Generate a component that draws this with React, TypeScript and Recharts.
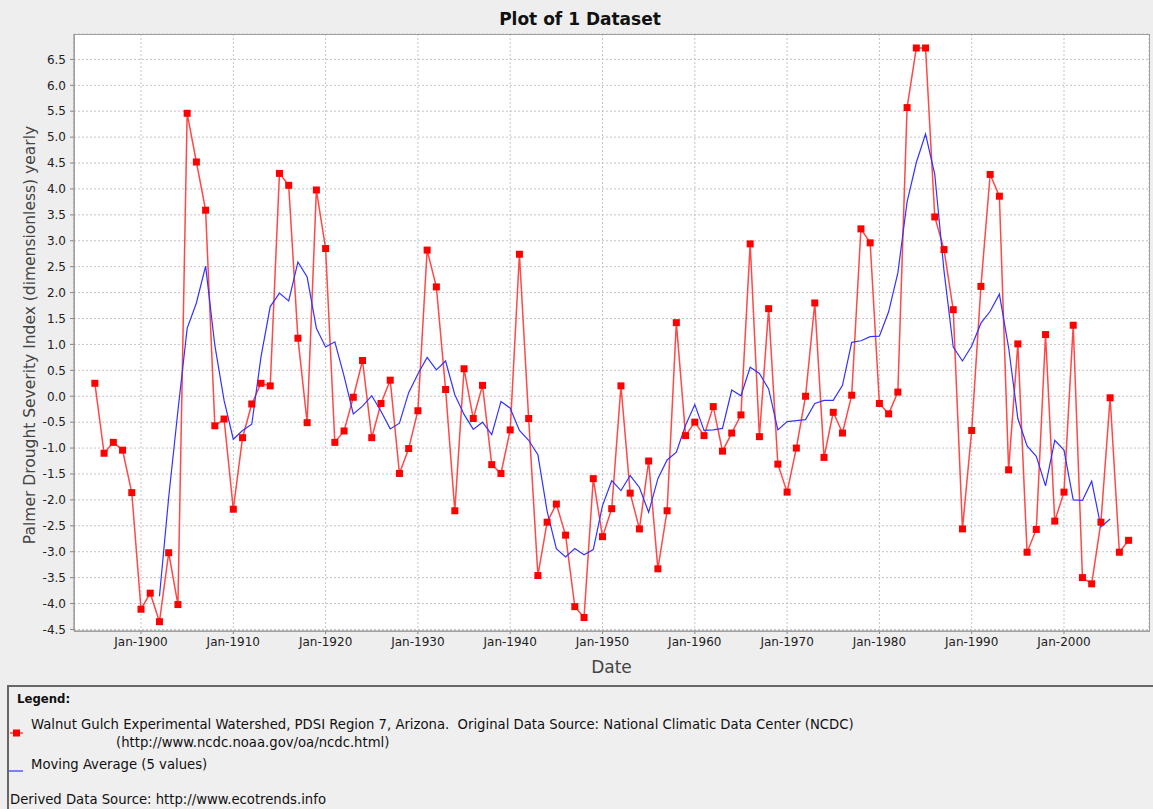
import React from 'react';
import { ComposedChart, Line, XAxis, YAxis, CartesianGrid } from 'recharts';

// years of the PDSI record (Jan of each year)
const years = [
  1895, 1896, 1897, 1898, 1899, 1900, 1901, 1902, 1903, 1904,
  1905, 1906, 1907, 1908, 1909, 1910, 1911, 1912, 1913, 1914,
  1915, 1916, 1917, 1918, 1919, 1920, 1921, 1922, 1923, 1924,
  1925, 1926, 1927, 1928, 1929, 1930, 1931, 1932, 1933, 1934,
  1935, 1936, 1937, 1938, 1939, 1940, 1941, 1942, 1943, 1944,
  1945, 1946, 1947, 1948, 1949, 1950, 1951, 1952, 1953, 1954,
  1955, 1956, 1957, 1958, 1959, 1960, 1961, 1962, 1963, 1964,
  1965, 1966, 1967, 1968, 1969, 1970, 1971, 1972, 1973, 1974,
  1975, 1976, 1977, 1978, 1979, 1980, 1981, 1982, 1983, 1984,
  1985, 1986, 1987, 1988, 1989, 1990, 1991, 1992, 1993, 1994,
  1995, 1996, 1997, 1998, 1999, 2000, 2001, 2002, 2003, 2004,
  2005, 2006, 2007,
];

const pdsi = [
  0.25, -1.1, -0.89, -1.04, -1.86, -4.11, -3.8, -4.35, -3.02, -4.02,
  5.46, 4.52, 3.59, -0.57, -0.44, -2.18, -0.8, -0.15, 0.25, 0.2,
  4.3, 4.07, 1.12, -0.51, 3.98, 2.85, -0.89, -0.67, -0.02, 0.69,
  -0.8, -0.14, 0.31, -1.49, -1.01, -0.28, 2.82, 2.11, 0.13, -2.21,
  0.53, -0.43, 0.21, -1.32, -1.49, -0.65, 2.74, -0.43, -3.46, -2.43,
  -2.08, -2.68, -4.06, -4.27, -1.59, -2.71, -2.17, 0.2, -1.87, -2.56,
  -1.25, -3.33, -2.21, 1.42, -0.76, -0.5, -0.76, -0.2, -1.06, -0.71,
  -0.36, 2.94, -0.78, 1.69, -1.31, -1.85, -1.0, 0.0, 1.8, -1.18,
  -0.31, -0.71, 0.02, 3.23, 2.96, -0.14, -0.34, 0.08, 5.57, 6.72,
  6.72, 3.46, 2.83, 1.67, -2.56, -0.66, 2.12, 4.28, 3.86, -1.42,
  1.01, -3.01, -2.57, 1.19, -2.41, -1.85, 1.37, -3.5, -3.62, -2.43,
  -0.03, -3.01, -2.78,
];

// moving average (5 values), 1902 - 2005
const movingAvgStart = 1902;
const movingAvg = [
  -3.86, -1.95, -0.28, 1.31, 1.8, 2.51, 0.98, -0.08, -0.83, -0.66,
  -0.54, 0.76, 1.73, 1.99, 1.84, 2.59, 2.3, 1.31, 0.95, 1.05,
  0.39, -0.34, -0.19, 0.01, -0.29, -0.63, -0.52, 0.07, 0.43, 0.75,
  0.51, 0.68, 0.03, -0.35, -0.64, -0.5, -0.74, -0.1, -0.23, -0.66,
  -0.85, -1.13, -2.22, -2.94, -3.1, -2.94, -3.06, -2.96, -2.11, -1.63,
  -1.82, -1.53, -1.76, -2.24, -1.59, -1.23, -1.08, -0.56, -0.16, -0.66,
  -0.65, -0.62, 0.12, 0.01, 0.56, 0.44, 0.14, -0.65, -0.49, -0.47,
  -0.45, -0.14, -0.08, -0.08, 0.21, 1.04, 1.07, 1.15, 1.16, 1.63,
  2.38, 3.75, 4.51, 5.06, 4.28, 2.42, 0.95, 0.68, 0.97, 1.41,
  1.64, 1.97, 0.94, -0.43, -0.96, -1.16, -1.73, -0.85, -1.04, -2.0,
  -2.01, -1.64, -2.52, -2.37,
];

const xTicks = [1900, 1910, 1920, 1930, 1940, 1950, 1960, 1970, 1980, 1990, 2000];
const yTicks = [
  -4.5, -4.0, -3.5, -3.0, -2.5, -2.0, -1.5, -1.0, -0.5, 0.0,
  0.5, 1.0, 1.5, 2.0, 2.5, 3.0, 3.5, 4.0, 4.5, 5.0, 5.5, 6.0, 6.5,
];

const data = years.map((year, i) => {
  const j = year - movingAvgStart;
  return {
    year,
    pdsi: pdsi[i],
    avg: j >= 0 && j < movingAvg.length ? movingAvg[j] : null,
  };
});

const SquareDot = (props: any) => {
  const { cx, cy } = props;
  if (cx == null || cy == null) return null;
  return <rect x={cx - 3.5} y={cy - 3.5} width={7} height={7} fill="#ff0000" />;
};

export default function App() {
  return (
    <div
      style={{
        position: 'absolute',
        left: 0,
        top: 0,
        width: 1153,
        height: 809,
        background: '#eeeeee',
        fontFamily: '"DejaVu Sans", sans-serif',
        overflow: 'hidden',
      }}
    >
      <div
        style={{
          position: 'absolute',
          left: 0,
          top: 8,
          width: 1160,
          textAlign: 'center',
          fontSize: 17,
          fontWeight: 'bold',
          color: '#111',
          lineHeight: '22px',
        }}
      >
        Plot of 1 Dataset
      </div>

      <div style={{ position: 'absolute', left: 0, top: 0 }}>
        <ComposedChart
          width={1153}
          height={686}
          data={data}
          margin={{ top: 34, right: 4, bottom: 0, left: 0 }}
        >
          <CartesianGrid fill="#ffffff" stroke="#c4c4c4" strokeDasharray="2 2" />
          <XAxis
            dataKey="year"
            type="number"
            domain={[1892.74, 2009.21]}
            allowDataOverflow
            ticks={xTicks}
            tickFormatter={(v) => `Jan-${v}`}
            height={55}
            tickSize={3}
            tickMargin={3}
            stroke="#888"
            tick={{ fontSize: 12, fill: '#222' }}
            label={{ value: 'Date', position: 'insideBottom', offset: 13, fontSize: 17, fill: '#444' }}
          />
          <YAxis
            type="number"
            domain={[-4.53, 6.99]}
            allowDataOverflow
            ticks={yTicks}
            tickFormatter={(v) => v.toFixed(1)}
            width={74}
            tickSize={4}
            tickMargin={4}
            stroke="#888"
            tick={{ fontSize: 12, fill: '#222' }}
          />
          <Line
            dataKey="pdsi"
            stroke="#ff4848"
            strokeWidth={1.5}
            dot={<SquareDot />}
            isAnimationActive={false}
          />
          <Line
            dataKey="avg"
            stroke="#3333ff"
            strokeWidth={1.2}
            dot={false}
            connectNulls={false}
            isAnimationActive={false}
          />
        </ComposedChart>
      </div>

      {/* plot border */}
      <div
        style={{
          position: 'absolute',
          left: 74,
          top: 34,
          width: 1076,
          height: 598,
          boxSizing: 'border-box',
          border: '1px solid #a0a0a0',
          pointerEvents: 'none',
        }}
      />

      <div
        style={{
          position: 'absolute',
          left: 30,
          top: 335,
          transform: 'translate(-50%, -50%) rotate(-90deg)',
          whiteSpace: 'nowrap',
          fontSize: 15.5,
          color: '#444',
        }}
      >
        Palmer Drought Severity Index (dimensionless) yearly
      </div>

      {/* legend box */}
      <div
        style={{
          position: 'absolute',
          left: 7,
          top: 685,
          right: -4,
          bottom: -4,
          borderTop: '2px solid #666',
          borderLeft: '2px solid #666',
          background: '#efefef',
          fontFamily: '"DejaVu Sans Condensed", "DejaVu Sans", sans-serif',
          fontSize: 14.7,
          color: '#111',
        }}
      >
        <div style={{ position: 'absolute', left: 8, top: 4, fontWeight: 'bold', fontSize: 13 }}>Legend:</div>
        <svg style={{ position: 'absolute', left: 0, top: 40 }} width={20} height={12}>
          <line x1={1} y1={6} x2={14} y2={6} stroke="#ff4848" strokeWidth={1.5} />
          <rect x={4} y={2.5} width={7} height={7} fill="#ff0000" />
        </svg>
        <div style={{ position: 'absolute', left: 22, top: 28 }}>
          Walnut Gulch Experimental Watershed, PDSI Region 7, Arizona.&nbsp;&nbsp;Original Data Source: National Climatic Data Center (NCDC)
        </div>
        <div style={{ position: 'absolute', left: 107, top: 46 }}>(http://www.ncdc.noaa.gov/oa/ncdc.html)</div>
        <svg style={{ position: 'absolute', left: 0, top: 78 }} width={20} height={8}>
          <line x1={0} y1={6} x2={14} y2={6} stroke="#3333ff" strokeWidth={1.2} />
        </svg>
        <div style={{ position: 'absolute', left: 22, top: 68 }}>Moving Average (5 values)</div>
        <div style={{ position: 'absolute', left: 1, top: 103 }}>Derived Data Source: http://www.ecotrends.info</div>
      </div>
    </div>
  );
}
